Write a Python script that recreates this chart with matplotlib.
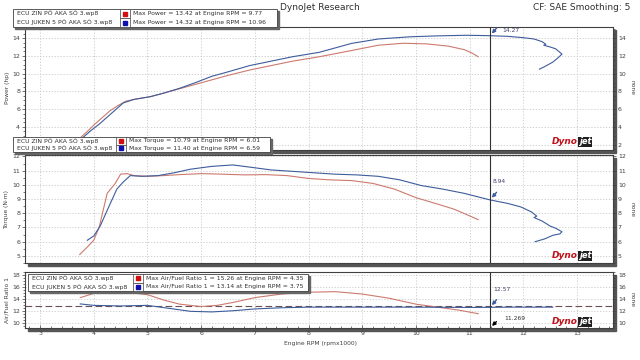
import matplotlib
matplotlib.use('Agg')
import matplotlib.pyplot as plt
from matplotlib.patches import Rectangle
from matplotlib.ticker import MultipleLocator

# power (hp)
rpm_red_pw = [3.72, 3.9, 4.0, 4.15, 4.3, 4.45, 4.6, 4.8, 5.05, 5.3, 5.6, 5.9, 6.2, 6.5, 6.9,
              7.3, 7.7, 8.2, 8.8, 9.3, 9.77, 10.2, 10.6, 10.9, 11.05, 11.16]
pw_red = [2.6, 3.6, 4.2, 5.0, 5.8, 6.4, 6.9, 7.15, 7.4, 7.8, 8.3, 8.8, 9.3, 9.8, 10.4,
          10.9, 11.4, 11.9, 12.6, 13.2, 13.42, 13.35, 13.1, 12.7, 12.3, 11.9]
rpm_blue_pw = [3.78, 3.95, 4.1, 4.25, 4.4, 4.55, 4.75, 5.05, 5.3, 5.6, 5.9, 6.2, 6.5, 6.9,
               7.3, 7.7, 8.2, 8.8, 9.3, 9.9, 10.4, 10.96, 11.38, 11.7, 12.0, 12.2, 12.35,
               12.42, 12.38, 12.5, 12.6, 12.72, 12.65, 12.55, 12.4, 12.3]
pw_blue = [2.7, 3.6, 4.3, 5.1, 5.9, 6.7, 7.1, 7.4, 7.8, 8.35, 9.0, 9.7, 10.2, 10.9,
           11.4, 11.9, 12.4, 13.4, 13.9, 14.15, 14.25, 14.32, 14.27, 14.2, 14.05, 13.9, 13.6,
           13.3, 13.2, 13.0, 12.8, 12.2, 11.8, 11.3, 10.8, 10.5]

# torque (N·m)
rpm_red_tq = [3.74, 3.9, 4.0, 4.1, 4.25, 4.4, 4.5, 4.62, 4.75, 5.0, 5.3, 5.6, 6.01, 6.4,
              6.8, 7.2, 7.6, 8.0, 8.4, 8.8, 9.2, 9.6, 10.0, 10.4, 10.7, 10.95, 11.16]
tq_red = [5.1, 5.7, 6.1, 7.0, 9.4, 10.1, 10.75, 10.79, 10.65, 10.6, 10.65, 10.72, 10.79, 10.75,
          10.7, 10.72, 10.65, 10.45, 10.35, 10.3, 10.1, 9.7, 9.1, 8.65, 8.3, 7.9, 7.55]
rpm_blue_tq = [3.88, 4.0, 4.12, 4.25, 4.43, 4.55, 4.68, 4.9, 5.2, 5.5, 5.8, 6.2, 6.59, 6.9,
               7.3, 7.7, 8.1, 8.5, 8.9, 9.3, 9.7, 10.1, 10.5, 10.9, 11.38, 11.7, 11.95,
               12.15, 12.25, 12.2, 12.35, 12.5, 12.6, 12.72, 12.68, 12.55, 12.4, 12.22]
tq_blue = [6.1, 6.4, 7.1, 8.2, 9.7, 10.2, 10.65, 10.6, 10.65, 10.85, 11.1, 11.3, 11.4, 11.25,
           11.05, 10.95, 10.85, 10.75, 10.7, 10.6, 10.35, 9.95, 9.7, 9.4, 8.94, 8.7, 8.45,
           8.1, 7.8, 7.7, 7.45, 7.1, 6.95, 6.7, 6.55, 6.45, 6.2, 6.0]

# air/fuel ratio
rpm_red_afr = [3.75, 4.0, 4.35, 4.7, 5.0, 5.3, 5.6, 6.0, 6.3, 6.6, 7.0, 7.5, 8.0, 8.5,
               9.0, 9.5, 10.0, 10.4, 10.8, 11.16]
afr_red = [14.2, 14.9, 15.26, 15.0, 14.7, 13.8, 13.1, 12.7, 12.9, 13.4, 14.2, 14.8, 15.1, 15.2,
           14.8, 14.1, 13.1, 12.6, 12.1, 11.5]
rpm_blue_afr = [3.75, 4.0, 4.5, 5.0, 5.4, 5.8, 6.2, 6.6, 7.0, 7.5, 8.0, 9.0, 10.0, 11.0,
                11.38, 11.8, 12.2, 12.55]
afr_blue = [13.14, 12.9, 12.8, 12.9, 12.4, 11.9, 11.8, 12.0, 12.3, 12.5, 12.6, 12.6, 12.6,
            12.55, 12.57, 12.6, 12.6, 12.6]
afr_ref = 12.8

cursor_rpm = 11.38
runs = ['ECU ZIN PÔ AKA SÔ 3.wp8', 'ECU JUKEN 5 PÔ AKA SÔ 3.wp8']
pw_info = ['Max Power = 13.42 at Engine RPM = 9.77', 'Max Power = 14.32 at Engine RPM = 10.96']
tq_info = ['Max Torque = 10.79 at Engine RPM = 6.01', 'Max Torque = 11.40 at Engine RPM = 6.59']
afr_info = ['Max Air/Fuel Ratio 1 = 15.26 at Engine RPM = 4.35',
            'Max Air/Fuel Ratio 1 = 13.14 at Engine RPM = 3.75']
x_ticks = [3, 4, 5, 6, 7, 8, 9, 10, 11, 12, 13]

RED = '#cc7a6e'
BLUE = '#3d5c9c'
W, H = 640, 360

fig = plt.figure(figsize=(6.4, 3.6), dpi=100)
fig.patch.set_facecolor('white')


def fx(px):
    return px / W


def fy(py):
    return 1 - py / H


def panel(left, top, right, bottom):
    # drop shadow behind the panel
    fig.patches.append(Rectangle((fx(left + 3), fy(bottom + 3)), fx(right - left), (bottom - top) / H,
                                 transform=fig.transFigure, color='#555555', zorder=-1))
    ax = fig.add_axes([fx(left), fy(bottom), fx(right - left), (bottom - top) / H])
    ax.set_facecolor('white')
    for s in ax.spines.values():
        s.set_color('#404040')
        s.set_linewidth(0.8)
    ax.set_xlim(2.72, 13.67)
    ax.set_xticks(x_ticks)
    ax.grid(True, color='#c8c8c8', linestyle=(0, (1.5, 2)), linewidth=0.6)
    ax.tick_params(axis='y', which='both', left=True, right=True, labelleft=True, labelright=True,
                   labelsize=4.5, colors='#404040', length=2.5, width=0.5, pad=1)
    ax.tick_params(axis='y', which='minor', length=1.5)
    ax.axvline(cursor_rpm, color='#303030', lw=0.8, zorder=4)
    return ax


def legend_box(left, top, sep, right, rows, names, infos):
    h = rows
    fig.patches.append(Rectangle((fx(left + 2), fy(top + 2 * h + 2)), fx(right - left), 2 * h / H,
                                 transform=fig.transFigure, color='#666666', zorder=5))
    fig.patches.append(Rectangle((fx(left), fy(top + 2 * h)), fx(right - left), 2 * h / H,
                                 transform=fig.transFigure, facecolor='white', edgecolor='#404040',
                                 lw=0.6, zorder=6))
    for i, (name, info, c) in enumerate(zip(names, infos, [RED, BLUE])):
        yc = top + h * (i + 0.5)
        fig.text(fx(left + 4), fy(yc), name, fontsize=4.4, va='center', color='#303030', zorder=7)
        fig.patches.append(Rectangle((fx(sep), fy(top + h * (i + 1))), fx(10), h / H,
                                     transform=fig.transFigure, facecolor='white',
                                     edgecolor='#404040', lw=0.5, zorder=7))
        fig.patches.append(Rectangle((fx(sep + 3), fy(yc + 2)), fx(4), 4 / H,
                                     transform=fig.transFigure,
                                     color='#d01010' if i == 0 else '#1010b0', zorder=8))
        fig.text(fx(sep + 13), fy(yc), info, fontsize=4.4, va='center', color='#303030', zorder=7)


def logo(xp, yp):
    fig.text(fx(xp), fy(yp), 'Dyno', fontsize=6.5, fontweight='bold', style='italic',
             color='#c0101a', va='center', ha='right', zorder=9)
    fig.text(fx(xp + 1), fy(yp), 'jet', fontsize=6, fontweight='bold', style='italic',
             color='white', va='center', ha='left', zorder=9,
             bbox=dict(boxstyle='square,pad=0.1', fc='#202020', ec='none'))


def mark(ax, x, y, label, dx, dy, color):
    ax.annotate('', xy=(x, y), xytext=(6, 7), textcoords='offset points',
                arrowprops=dict(arrowstyle='-|>', color=color, lw=1.0, mutation_scale=5),
                zorder=6)
    ax.annotate(label, xy=(x, y), xytext=(dx, dy), textcoords='offset points',
                fontsize=4.3, color='#404070', zorder=6)


# power
ax1 = panel(25, 27, 613, 150)
ax1.plot(rpm_red_pw, pw_red, color=RED, lw=0.8)
ax1.plot(rpm_blue_pw, pw_blue, color=BLUE, lw=0.8)
ax1.set_ylim(1.4, 15.25)
ax1.yaxis.set_minor_locator(MultipleLocator(0.5))
ax1.set_yticks([2, 4, 6, 8, 10, 12, 14])
ax1.yaxis.get_major_ticks()[0].label1.set_visible(False)
ax1.tick_params(axis='x', length=0, labelbottom=False)
mark(ax1, cursor_rpm, 14.27, '14.27', 9, 3, BLUE)

# torque
ax2 = panel(25, 155, 613, 263)
ax2.plot(rpm_red_tq, tq_red, color=RED, lw=0.8)
ax2.plot(rpm_blue_tq, tq_blue, color=BLUE, lw=0.8)
ax2.set_ylim(4.5, 12.1)
ax2.yaxis.set_major_locator(MultipleLocator(1))
ax2.yaxis.set_minor_locator(MultipleLocator(0.5))
ax2.tick_params(axis='x', length=0, labelbottom=False)
mark(ax2, cursor_rpm, 8.94, '8.94', 2, 12, BLUE)

# air/fuel
ax3 = panel(25, 272, 613, 328)
ax3.axhline(afr_ref, color='#6a5050', lw=0.8, linestyle=(0, (6, 3)), zorder=2)
ax3.plot(rpm_red_afr, afr_red, color=RED, lw=0.8)
ax3.plot(rpm_blue_afr, afr_blue, color=BLUE, lw=0.8)
ax3.set_ylim(9.1, 18.5)
ax3.yaxis.set_major_locator(MultipleLocator(2))
ax3.yaxis.set_minor_locator(MultipleLocator(0.5))
ax3.xaxis.set_minor_locator(MultipleLocator(0.2))
ax3.tick_params(axis='x', which='both', labelsize=4.5, colors='#404040', length=2.5, width=0.5,
                pad=2, direction='in')
ax3.tick_params(axis='x', which='minor', length=1.5)
mark(ax3, cursor_rpm, 12.57, '12.57', 2, 12, BLUE)
ax3.annotate('', xy=(cursor_rpm, 9.1), xytext=(6, 6), textcoords='offset points',
             arrowprops=dict(arrowstyle='-|>', color='black', lw=1.0, mutation_scale=5), zorder=6)
ax3.annotate('11.269', xy=(cursor_rpm, 9.1), xytext=(10, 6), textcoords='offset points',
             fontsize=4.3, color='#303030', zorder=6)

legend_box(13, 9, 120, 277, 9, runs, pw_info)
legend_box(13, 137, 116, 270, 7.5, runs, tq_info)
legend_box(28, 274, 133, 308, 8.5, runs, afr_info)

logo(578, 142)
logo(578, 256)
logo(578, 322)

fig.text(0.5, fy(8), 'DynoJet Research', fontsize=6.5, ha='center', va='center', color='#303030')
fig.text(fx(630), fy(8), 'CF: SAE Smoothing: 5', fontsize=6.5, ha='right', va='center', color='#303030')
fig.text(fx(320), fy(344), 'Engine RPM (rpmx1000)', fontsize=4.3, ha='center', va='center', color='#404040')
fig.text(fx(7), fy(88), 'Power (hp)', fontsize=4.3, rotation=90, ha='center', va='center', color='#404040')
fig.text(fx(7), fy(209), 'Torque (N·m)', fontsize=4.3, rotation=90, ha='center', va='center', color='#404040')
fig.text(fx(7), fy(300), 'Air/Fuel Ratio 1', fontsize=4.3, rotation=90, ha='center', va='center', color='#404040')
for yp in (88, 209, 300):
    fig.text(fx(632), fy(yp), 'none', fontsize=4.3, rotation=270, ha='center', va='center', color='#404040')

fig.savefig('out.png', dpi=100)
